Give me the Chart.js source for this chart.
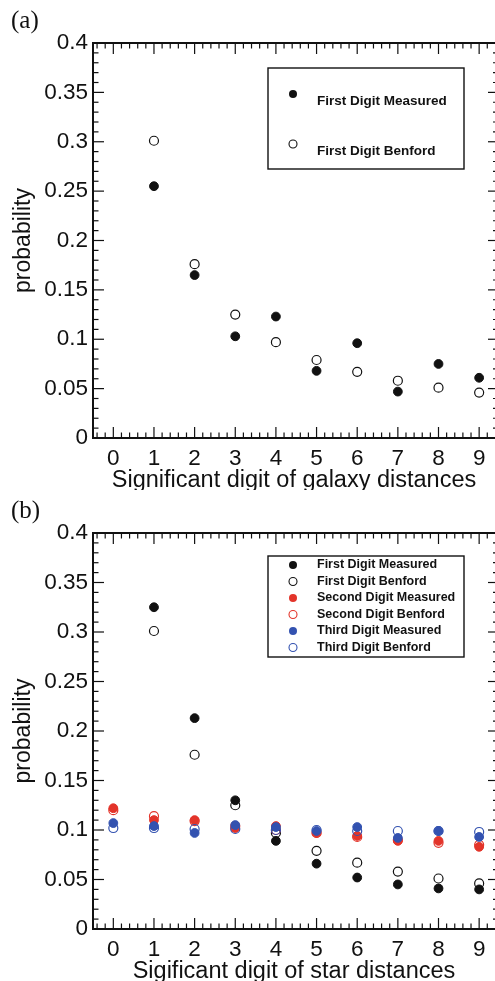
<!DOCTYPE html>
<html>
<head>
<meta charset="utf-8">
<script src="https://cdn.jsdelivr.net/npm/chart.js@4.4.0/dist/chart.umd.min.js"></script>
<style>
  html, body { margin: 0; padding: 0; background: #fff; overflow: hidden; }
  canvas { display: block; }
</style>
</head>
<body>
<canvas id="galaxy" width="495" height="490"></canvas>
<canvas id="stars" width="495" height="491"></canvas>
<script>
// digits on the x axis and probability ticks on the y axis
const digits = [0, 1, 2, 3, 4, 5, 6, 7, 8, 9]
const probTicks = [0, 0.05, 0.1, 0.15, 0.2, 0.25, 0.3, 0.35, 0.4]

// (a) galaxy distances
const galaxyFirstMeasured = [null, 0.255, 0.165, 0.103, 0.123, 0.068, 0.096, 0.047, 0.075, 0.061]
const galaxyFirstBenford = [null, 0.301, 0.176, 0.125, 0.097, 0.079, 0.067, 0.058, 0.051, 0.046]

// (b) star distances
const starFirstMeasured = [null, 0.325, 0.213, 0.130, 0.089, 0.066, 0.052, 0.045, 0.041, 0.040]
const starFirstBenford = [null, 0.301, 0.176, 0.125, 0.097, 0.079, 0.067, 0.058, 0.051, 0.046]
const starSecondMeasured = [0.122, 0.110, 0.110, 0.102, 0.104, 0.097, 0.094, 0.089, 0.089, 0.083]
const starSecondBenford = [0.120, 0.114, 0.109, 0.104, 0.100, 0.097, 0.093, 0.090, 0.087, 0.085]
const starThirdMeasured = [0.107, 0.104, 0.097, 0.105, 0.103, 0.099, 0.103, 0.092, 0.099, 0.093]
const starThirdBenford = [0.102, 0.102, 0.101, 0.101, 0.100, 0.100, 0.099, 0.099, 0.099, 0.098]

const BLACK = '#111111'
const RED = '#e3342a'
const BLUE = '#3352b0'

function points(values) {
    let pts = []
    for (let i = 0; i < digits.length; i++) {
        if (values[i] !== null) pts.push({ x: digits[i], y: values[i] })
    }
    return pts
}

function series(label, values, color, filled, order) {
    return {
        label: label,
        data: points(values),
        pointStyle: 'circle',
        pointRadius: filled ? 4.4 : 4.5,
        borderWidth: filled ? 1 : 1.2,
        borderColor: color,
        backgroundColor: filled ? color : 'rgba(0,0,0,0)',
        order: order
    }
}

function line(ctx, x1, y1, x2, y2) {
    ctx.beginPath()
    ctx.moveTo(x1, y1)
    ctx.lineTo(x2, y2)
    ctx.stroke()
}

// frame, inward ticks, panel letter and the boxed legend
const framePlugin = {
    id: 'frame',
    afterDraw(chart, args, opts) {
        const ctx = chart.ctx
        const { left, right, top, bottom } = chart.chartArea
        const xs = chart.scales.x
        const ys = chart.scales.y
        ctx.save()
        ctx.strokeStyle = '#111'

        ctx.lineWidth = 1.2
        digits.forEach(d => {
            const px = xs.getPixelForValue(d)
            line(ctx, px, bottom, px, bottom - 11)
            line(ctx, px, top, px, top + 11)
        })
        for (let i = -2; i / 5 < xs.max; i++) {
            if (i % 5 === 0) continue
            const px = xs.getPixelForValue(i / 5)
            line(ctx, px, bottom, px, bottom - 5.5)
            line(ctx, px, top, px, top + 5.5)
        }
        probTicks.forEach(v => {
            const py = ys.getPixelForValue(v)
            line(ctx, left, py, left + 11, py)
            line(ctx, right, py, right - 7, py)
        })
        for (let i = 1; i < 40; i++) {
            if (i % 5 === 0) continue
            const py = ys.getPixelForValue(i / 100)
            line(ctx, left, py, left + 5.5, py)
            line(ctx, right, py, right - 2, py)
        }

        ctx.lineWidth = 2
        ctx.beginPath()
        ctx.moveTo(right, top)
        ctx.lineTo(left, top)
        ctx.lineTo(left, bottom)
        ctx.lineTo(right, bottom)
        ctx.stroke()

        ctx.fillStyle = '#111'
        ctx.font = '25px "Liberation Serif"'
        ctx.textBaseline = 'middle'
        ctx.textAlign = 'left'
        ctx.fillText(opts.panel, 11, 21)

        const box = opts.box
        ctx.lineWidth = 1.4
        ctx.strokeRect(box.x, box.y, box.w, box.h)
        ctx.font = 'bold ' + opts.fontSize + 'px "Liberation Sans"'
        chart.data.datasets.forEach((ds, i) => {
            const y = box.firstRow + i * box.rowStep
            ctx.beginPath()
            ctx.arc(box.marker, y, 4, 0, Math.PI * 2)
            if (ds.backgroundColor !== 'rgba(0,0,0,0)') {
                ctx.fillStyle = ds.borderColor
                ctx.fill()
            } else {
                ctx.strokeStyle = ds.borderColor
                ctx.lineWidth = 1.1
                ctx.stroke()
            }
            ctx.fillStyle = '#111'
            ctx.fillText(ds.label, box.text, y + box.textShift)
        })
        ctx.restore()
    }
}

function makeChart(id, datasets, title, panel, box, fontSize) {
    return new Chart(document.getElementById(id), {
        type: 'scatter',
        data: { datasets: datasets },
        plugins: [framePlugin],
        options: {
            responsive: false,
            animation: false,
            events: [],
            layout: { autoPadding: false, padding: { top: 43, left: 0, right: 0, bottom: 0 } },
            plugins: {
                legend: { display: false },
                tooltip: { enabled: false },
                frame: { panel: panel, box: box, fontSize: fontSize }
            },
            scales: {
                x: {
                    type: 'linear',
                    min: -0.5,
                    max: 9.39,
                    afterFit: s => { s.height = 52 },
                    afterBuildTicks: s => { s.ticks = digits.map(v => ({ value: v })) },
                    grid: { display: false, drawTicks: false },
                    border: { display: false },
                    ticks: { color: '#111', padding: 7, font: { family: 'Liberation Sans', size: 22.5 } },
                    title: {
                        display: true, text: title, color: '#111',
                        padding: { top: 0, bottom: -2 },
                        font: { family: 'Liberation Sans', size: 23.5, lineHeight: 1 }
                    }
                },
                y: {
                    min: 0,
                    max: 0.4,
                    afterFit: s => { s.width = 93 },
                    afterBuildTicks: s => { s.ticks = probTicks.map(v => ({ value: v })) },
                    grid: { display: false, drawTicks: false },
                    border: { display: false },
                    ticks: {
                        color: '#111', padding: 5,
                        font: { family: 'Liberation Sans', size: 22.5 },
                        callback: v => String(+v.toFixed(2))
                    },
                    title: {
                        display: true, text: 'probability', color: '#111',
                        padding: { top: 12, bottom: 0 },
                        font: { family: 'Liberation Sans', size: 23, lineHeight: 1 }
                    }
                }
            }
        }
    })
}

makeChart('galaxy', [
    series('First Digit Measured', galaxyFirstMeasured, BLACK, true, 1),
    series('First Digit Benford', galaxyFirstBenford, BLACK, false, 0)
], 'Significant digit of galaxy distances', '(a)',
    { x: 268, y: 68, w: 196, h: 101, marker: 293, text: 317, firstRow: 94, rowStep: 50, textShift: 7 }, 13.5)

makeChart('stars', [
    series('First Digit Measured', starFirstMeasured, BLACK, true, 5),
    series('First Digit Benford', starFirstBenford, BLACK, false, 4),
    series('Second Digit Measured', starSecondMeasured, RED, true, 3),
    series('Second Digit Benford', starSecondBenford, RED, false, 2),
    series('Third Digit Measured', starThirdMeasured, BLUE, true, 1),
    series('Third Digit Benford', starThirdBenford, BLUE, false, 0)
], 'Sigificant digit of star distances', '(b)',
    { x: 268, y: 66, w: 196, h: 101, marker: 293, text: 317, firstRow: 75, rowStep: 16.5, textShift: 0 }, 12.5)
</script>
</body>
</html>
